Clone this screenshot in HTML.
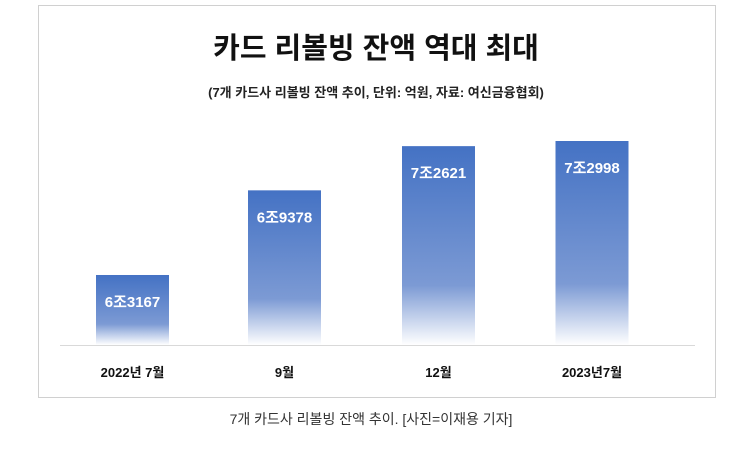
<!DOCTYPE html>
<html><head><meta charset="utf-8"><style>
body{margin:0;background:#fff;width:743px;height:446px;overflow:hidden;font-family:"Liberation Sans","Noto Sans CJK KR",sans-serif}
</style></head><body>
<svg width="743" height="446">
<defs><linearGradient id="g" x1="0" y1="0" x2="0" y2="1">
<stop offset="0" stop-color="#4472c4"/><stop offset="0.7" stop-color="#7c9ad4"/><stop offset="1" stop-color="#ffffff"/></linearGradient></defs>
<rect x="38.5" y="5.5" width="677" height="392" fill="#fff" stroke="#d0d0d0"/>
<text x="376" y="58" text-anchor="middle" font-size="29" font-weight="bold" fill="#111">카드 리볼빙 잔액 역대 최대</text>
<text x="376" y="97" text-anchor="middle" font-size="13" font-weight="bold" fill="#222">(7개 카드사 리볼빙 잔액 추이, 단위: 억원, 자료: 여신금융협회)</text>
<line x1="60" y1="345.5" x2="695" y2="345.5" stroke="#d9d9d9"/>
<g id="bars"></g>
<text x="371" y="424" text-anchor="middle" font-size="14" fill="#333">7개 카드사 리볼빙 잔액 추이. [사진=이재용 기자]</text>
</svg>
<script>
const categories=["2022년 7월","9월","12월","2023년7월"];
const values=[63167,69378,72621,72998];
const valueLabels=["6조3167","6조9378","7조2621","7조2998"];
const yMin=58031, pxPerUnit=0.01363, baseY=345;
const centers=[132.5,284.5,438.5,592];
const bw=73;
const y=v=>baseY-(v-yMin)*pxPerUnit;
const g=document.getElementById('bars');
const ns="http://www.w3.org/2000/svg";
values.forEach((v,i)=>{
  const r=document.createElementNS(ns,'rect');
  r.setAttribute('x',centers[i]-bw/2);r.setAttribute('y',y(v));
  r.setAttribute('width',bw);r.setAttribute('height',baseY-y(v));
  r.setAttribute('fill','url(#g)');
  
  
  g.appendChild(r);
  const t=document.createElementNS(ns,'text');
  t.setAttribute('x',centers[i]);t.setAttribute('y',y(v)+32);
  t.setAttribute('text-anchor','middle');t.setAttribute('font-size','15');
  t.setAttribute('font-weight','bold');t.setAttribute('fill','#fff');
  t.textContent=valueLabels[i];
  
  
  g.appendChild(t);
  const c=document.createElementNS(ns,'text');
  c.setAttribute('x',centers[i]);c.setAttribute('y',377);
  c.setAttribute('text-anchor','middle');c.setAttribute('font-size','13');
  c.setAttribute('font-weight','bold');c.setAttribute('fill','#111');
  c.textContent=categories[i];
  
  
  g.appendChild(c);
});
</script>
</body></html>
